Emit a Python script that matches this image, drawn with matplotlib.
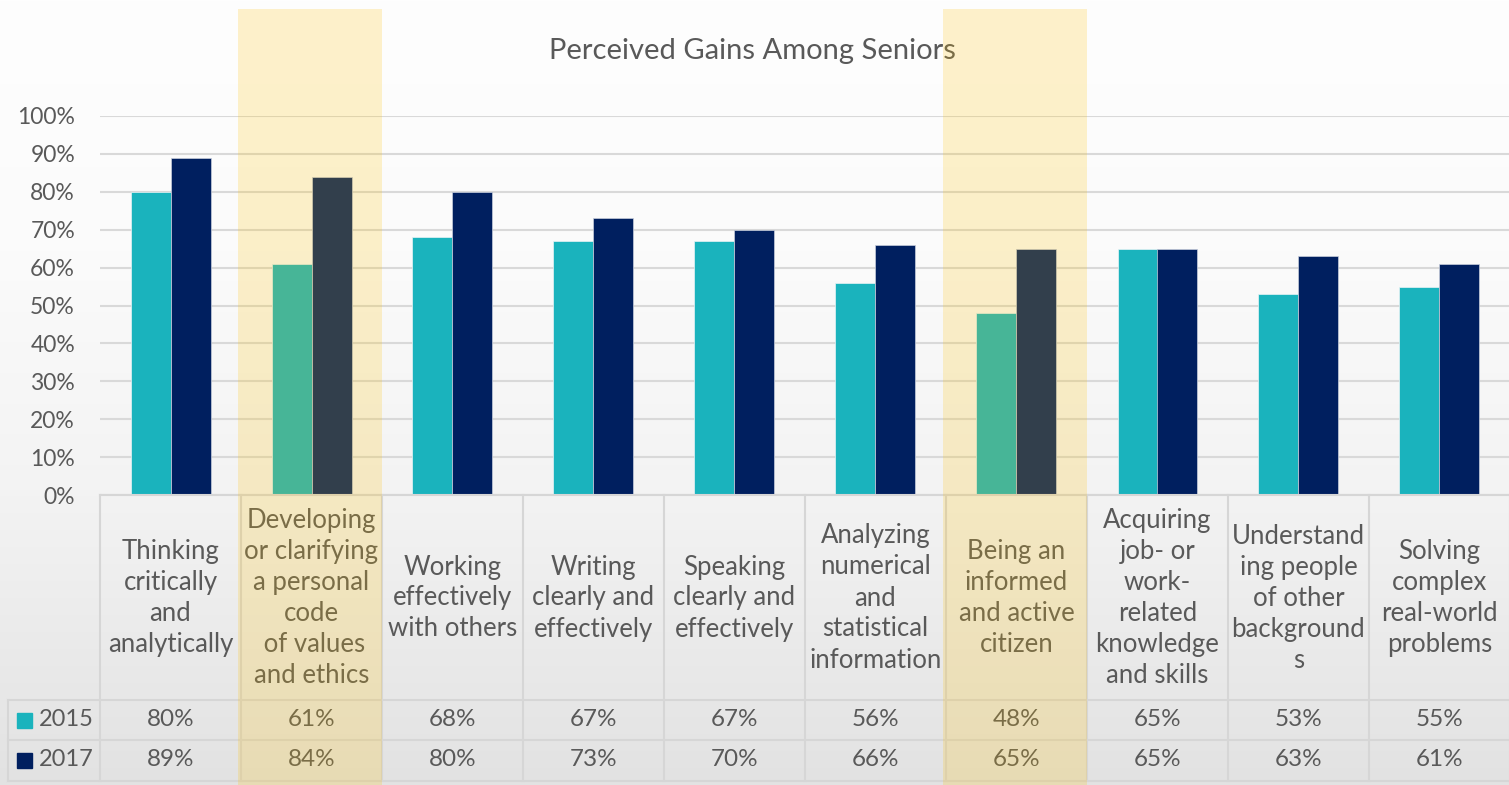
import numpy as np
import matplotlib
matplotlib.use("Agg")
import matplotlib.pyplot as plt
from matplotlib.patches import Rectangle

categories = [
    "Thinking\ncritically\nand\nanalytically",
    "Developing\nor clarifying\na personal\ncode\n of values\nand ethics",
    "Working\neffectively\nwith others",
    "Writing\nclearly and\neffectively",
    "Speaking\nclearly and\neffectively",
    "Analyzing\nnumerical\nand\nstatistical\ninformation",
    "Being an\ninformed\nand active\ncitizen",
    "Acquiring\njob- or\nwork-\nrelated\nknowledge\nand skills",
    "Understand\ning people\nof other\nbackground\ns",
    "Solving\ncomplex\nreal-world\nproblems",
]
series_names = ["2015", "2017"]
values_2015 = [80, 61, 68, 67, 67, 56, 48, 65, 53, 55]
values_2017 = [89, 84, 80, 73, 70, 66, 65, 65, 63, 61]
highlighted = [1, 6]
yticks = [0, 10, 20, 30, 40, 50, 60, 70, 80, 90, 100]
title = "Perceived Gains Among Seniors"

plt.rcParams['font.family'] = ['Lato', 'DejaVu Sans']
TXT = "#595959"
C15 = "#1ab3bd"
C17 = "#001f5f"
GRID = "#d9d9d9"

W, H = 1509, 785
fig = plt.figure(figsize=(W / 100, H / 100), dpi=100)

# background gradient
bg = fig.add_axes([0, 0, 1, 1])
ys = np.arange(H)
vals = np.interp(ys, [0, 250, 495, 785], [254, 251, 243, 226]) / 255.0
img = np.repeat(vals[:, None], 2, axis=1)
bg.imshow(np.dstack([img, img, img]), aspect='auto', extent=[0, 1, 0, 1], origin='upper')
bg.set_axis_off()
bg.set_zorder(-10)

def fx(px):
    return px / W

def fy(py):
    return 1 - py / H

x0, x1 = 100, 1510
y0, y100 = 495, 116
ax = fig.add_axes([fx(x0), fy(y0), fx(x1) - fx(x0), fy(y100) - fy(y0)])
ax.patch.set_alpha(0)
n = len(categories)
x = np.arange(n)
bw = 40 / 141
ax.bar(x - bw / 2, values_2015, bw, color=C15, edgecolor="#e8f4f6", linewidth=0.5, zorder=3)
ax.bar(x + bw / 2, values_2017, bw, color=C17, edgecolor="#c9cfdc", linewidth=0.5, zorder=3)
ax.set_xlim(-0.5, n - 0.5)
ax.set_ylim(0, 100)
ax.set_yticks(yticks)
ax.set_yticklabels([f"{v}%" for v in yticks], fontsize=16.5, color=TXT)
ax.tick_params(axis='y', length=0, pad=18)
ax.set_xticks([])
for s in ax.spines.values():
    s.set_visible(False)
ax.grid(axis='y', color=GRID, linewidth=1.5, zorder=0)
ax.set_axisbelow(True)

fig.text(fx(752), fy(51), title, ha='center', va='center', fontsize=21, color=TXT)

# data table
tab = fig.add_axes([fx(x0), fy(783), fx(x1) - fx(x0), fy(y0) - fy(783)])
tab.patch.set_alpha(0)
tab.set_xlim(-0.5, n - 0.5)
tab.set_ylim(783, y0)
tab.set_axis_off()
colw = 141.0
left_edge = -0.5 - (x0 - 8) / colw
lc = "#d6d6d6"
for yy in [700, 740, 781]:
    tab.plot([left_edge, n - 0.5], [yy, yy], color=lc, lw=1.5, clip_on=False)
tab.plot([-0.5, n - 0.5], [y0, y0], color=lc, lw=1.5, clip_on=False)
for i in range(n + 1):
    tab.plot([i - 0.5, i - 0.5], [y0, 781], color=lc, lw=1.5, clip_on=False)
tab.plot([left_edge, left_edge], [700, 781], color=lc, lw=1.5, clip_on=False)

for i, c in enumerate(categories):
    tab.text(i, 598, c, ha='center', va='center', fontsize=18.5, color=TXT,
             linespacing=1.3, multialignment='center')
    tab.text(i, 720, f"{values_2015[i]}%", ha='center', va='center', fontsize=17.5, color=TXT)
    tab.text(i, 760, f"{values_2017[i]}%", ha='center', va='center', fontsize=17.5, color=TXT)

sq = 15 / colw
for yy, name, col in [(720, series_names[0], C15), (760, series_names[1], C17)]:
    kx = left_edge + 9 / colw
    tab.add_patch(Rectangle((kx, yy - 7.5), sq, 15, color=col, clip_on=False))
    tab.text(kx + sq + 7 / colw, yy, name, ha='left', va='center', fontsize=17, color=TXT)

# highlight overlay
ov = fig.add_axes([fx(x0), 0, fx(x1) - fx(x0), 1])
ov.patch.set_alpha(0)
ov.set_xlim(-0.5, n - 0.5)
ov.set_ylim(0, H)
ov.set_axis_off()
ov.set_zorder(20)
for i in highlighted:
    ov.add_patch(Rectangle((i - 0.52, 0), 1.02, H - 9, facecolor="#ffc000", alpha=0.2,
                           edgecolor='none', clip_on=False))

fig.savefig("out.png", dpi=100)
